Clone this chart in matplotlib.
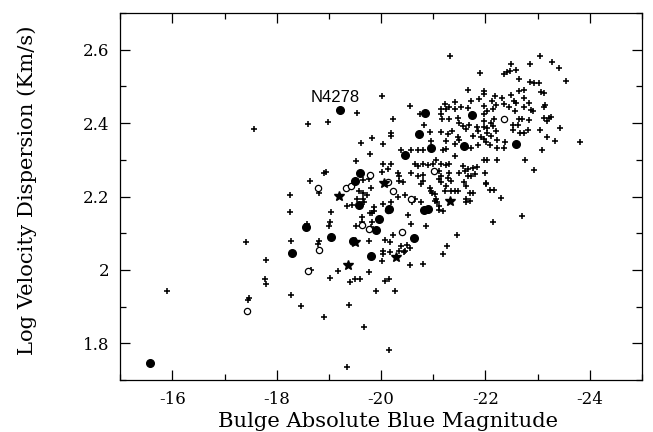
import matplotlib
matplotlib.use("Agg")
import matplotlib.pyplot as plt
import numpy as np
from matplotlib.ticker import MultipleLocator, FormatStrFormatter

plt.rcParams['axes.unicode_minus'] = False
plt.rcParams['font.family'] = 'DejaVu Serif'

# bulge absolute blue magnitude vs log velocity dispersion
filled_mag = [-15.57, -19.22, -20.85, -20.72, -20.96, -20.45, -21.75, -21.59, -22.59,
              -19.59, -19.51, -19.57, -20.16, -19.96, -20.82, -20.90, -18.57, -19.04,
              -19.47, -19.90, -20.63, -18.29, -19.81]
filled_sig = [1.748, 2.436, 2.427, 2.370, 2.333, 2.312, 2.423, 2.339, 2.343,
              2.263, 2.243, 2.178, 2.165, 2.139, 2.163, 2.167, 2.118, 2.090,
              2.080, 2.108, 2.088, 2.046, 2.037]

open_mag = [-17.44, -18.60, -18.81, -18.79, -19.32, -19.42, -19.78, -19.64, -19.77,
            -20.13, -20.23, -20.58, -20.13, -20.41, -21.02, -22.35]
open_sig = [1.887, 1.997, 2.055, 2.222, 2.222, 2.229, 2.259, 2.123, 2.112,
            2.240, 2.214, 2.193, 2.163, 2.103, 2.269, 2.410]

star_mag = [-19.20, -20.05, -21.33, -19.50, -19.37, -20.28]
star_sig = [2.202, 2.238, 2.188, 2.076, 2.013, 2.035]

cross_mag = [
    -15.90, -17.57, -17.42, -17.45, -17.46, -17.80, -17.77, -17.79, -18.25, -18.25,
    -18.27, -18.27, -18.46, -18.60, -18.63, -18.81, -18.99, -18.90, -18.94, -18.58,
    -18.79, -18.81, -18.65, -18.90, -19.02, -19.17, -19.05, -19.03, -19.00, -19.40,
    -19.50, -19.60, -19.39, -19.68, -19.35, -19.77, -19.90, -20.02, -20.04, -20.08,
    -20.15, -20.27, -20.15, -20.56, -20.81, -20.44, -21.19, -21.27, -21.46, -22.14,
    -22.71, -22.29,
    -19.54, -19.61, -19.83, -20.02,
    -19.79, -19.52, -19.66, -19.77, -19.57, -19.66, -19.73, -19.54, -19.66, -19.68,
    -19.81, -19.35, -19.45, -19.87, -19.87, -19.83, -19.78, -19.83, -19.81, -19.63,
    -19.52, -19.76, -20.09,
    -21.33, -21.90, -22.35, -22.42, -22.47, -20.55, -20.23, -20.19, -20.19, -20.04,
    -21.66, -21.97, -21.97, -21.87, -21.73, -22.18, -22.12, -22.31, -22.36, -21.22,
    -21.42, -21.15, -21.25, -21.31, -21.41, -21.54, -21.14, -21.66, -21.97, -20.74,
    -20.83, -20.93, -20.96, -21.17, -21.31, -21.47, -21.50, -21.57, -21.63, -21.15,
    -21.28, -21.36, -21.47, -21.50, -21.25, -21.41, -21.19, -21.25, -21.68, -21.84,
    -21.85, -21.76, -21.92, -21.97, -21.85, -21.97, -21.97, -21.97, -22.04, -22.14,
    -22.20, -22.11, -22.17, -22.04, -22.14, -22.04, -22.11, -22.20, -22.01, -22.08,
    -22.23, -22.22, -22.37, -22.36, -21.73, -20.39, -20.58, -20.71, -20.81,
    -23.05, -22.50, -22.58, -22.85, -23.28, -23.41, -23.54, -22.65, -22.86, -22.94,
    -23.03, -23.06, -23.12, -22.49, -22.65, -22.74, -22.55, -22.58, -22.74, -22.84,
    -22.46, -22.56, -22.74, -22.88, -22.92, -23.14, -23.13, -22.65, -22.70, -22.84,
    -23.13, -23.22, -23.25, -23.19, -22.52, -22.52, -22.63, -22.81, -22.67, -22.74,
    -23.04, -23.43, -23.19, -23.33, -23.82, -23.09, -22.75, -22.94,
    -20.04, -20.20, -20.65, -20.70, -20.81, -20.90, -21.00, -21.06, -21.15, -21.25,
    -21.31, -21.41, -21.57, -21.66, -21.76, -21.84, -21.98, -22.04, -22.23, -20.01,
    -20.13, -20.33, -20.34, -20.58, -20.71, -20.81, -21.12, -21.15, -21.12, -21.31,
    -21.28, -21.50, -21.61, -21.66, -21.73, -21.80, -21.99, -22.01, -22.01, -20.34,
    -20.42, -20.81, -20.76, -21.15, -21.35, -21.59, -21.63, -20.93, -20.96, -20.98,
    -21.25, -21.22, -21.35, -21.41, -21.47, -21.70, -21.76, -22.08, -22.17, -20.32,
    -20.46, -20.66, -20.76, -20.60, -21.04, -21.06, -21.03, -21.08, -21.12, -21.12,
    -21.19, -21.63, -21.63, -21.70, -20.20, -20.04, -20.51, -20.57, -20.87, -20.23,
    -20.08, -20.17, -20.38, -20.49, -20.56, -20.04, -20.17, -20.34, -20.46, -19.63,
]
cross_sig = [
    1.942, 2.384, 2.076, 1.918, 1.925, 2.026, 1.975, 1.962, 2.205, 2.159,
    2.080, 1.933, 1.903, 2.398, 2.242, 2.211, 2.402, 2.263, 2.266, 2.124,
    2.071, 2.078, 1.999, 1.873, 1.978, 1.997, 2.157, 2.130, 2.121, 1.966,
    1.975, 1.975, 1.904, 1.846, 1.735, 1.995, 1.942, 2.024, 2.044, 1.970,
    1.975, 1.942, 1.782, 2.013, 2.017, 2.050, 2.044, 2.066, 2.095, 2.132,
    2.146, 2.197,
    2.427, 2.347, 2.359, 2.475,
    2.317, 2.297, 2.245, 2.248, 2.215, 2.211, 2.205, 2.193, 2.193, 2.185,
    2.224, 2.173, 2.176, 2.172, 2.162, 2.154, 2.154, 2.132, 2.118, 2.132,
    2.120, 2.080, 2.235,
    2.584, 2.537, 2.533, 2.538, 2.542, 2.446, 2.412, 2.374, 2.366, 2.343,
    2.490, 2.487, 2.478, 2.466, 2.460, 2.473, 2.460, 2.469, 2.451, 2.453,
    2.458, 2.439, 2.439, 2.443, 2.439, 2.443, 2.425, 2.440, 2.447, 2.425,
    2.395, 2.377, 2.350, 2.412, 2.410, 2.415, 2.401, 2.392, 2.383, 2.375,
    2.370, 2.379, 2.362, 2.353, 2.350, 2.343, 2.326, 2.330, 2.396, 2.390,
    2.378, 2.365, 2.362, 2.357, 2.340, 2.425, 2.407, 2.389, 2.434, 2.439,
    2.448, 2.401, 2.410, 2.387, 2.392, 2.372, 2.365, 2.378, 2.349, 2.340,
    2.354, 2.331, 2.349, 2.331, 2.331, 2.328, 2.328, 2.328, 2.326,
    2.583, 2.560, 2.545, 2.560, 2.566, 2.550, 2.516, 2.521, 2.511, 2.508,
    2.508, 2.486, 2.481, 2.477, 2.488, 2.491, 2.461, 2.454, 2.469, 2.454,
    2.443, 2.432, 2.443, 2.437, 2.432, 2.450, 2.444, 2.412, 2.412, 2.408,
    2.415, 2.415, 2.418, 2.406, 2.396, 2.381, 2.396, 2.381, 2.372, 2.372,
    2.381, 2.387, 2.363, 2.351, 2.349, 2.326, 2.300, 2.272,
    2.290, 2.290, 2.290, 2.283, 2.290, 2.285, 2.290, 2.300, 2.290, 2.285,
    2.290, 2.310, 2.283, 2.276, 2.278, 2.280, 2.300, 2.300, 2.300, 2.268,
    2.274, 2.265, 2.257, 2.265, 2.257, 2.260, 2.270, 2.257, 2.248, 2.265,
    2.251, 2.265, 2.270, 2.257, 2.257, 2.261, 2.265, 2.238, 2.234, 2.243,
    2.240, 2.242, 2.235, 2.240, 2.242, 2.240, 2.228, 2.224, 2.215, 2.210,
    2.228, 2.215, 2.215, 2.215, 2.215, 2.210, 2.210, 2.219, 2.219, 2.200,
    2.204, 2.193, 2.184, 2.184, 2.207, 2.194, 2.188, 2.185, 2.173, 2.164,
    2.160, 2.193, 2.184, 2.187, 2.186, 2.181, 2.150, 2.125, 2.121, 2.095,
    2.082, 2.076, 2.064, 2.068, 2.061, 2.053, 2.050, 2.053, 2.053, 2.145,
]

fig = plt.figure(figsize=(6.53, 4.32), dpi=100)
ax = fig.add_axes([0.184, 0.12, 0.799, 0.85])

ax.plot(cross_mag, cross_sig, '+', color='black', markersize=3.8, mew=1.15)
ax.plot(open_mag, open_sig, 'o', mfc='white', mec='black', markersize=4.5, mew=0.9)
ax.plot(filled_mag, filled_sig, 'o', color='black', markersize=5.5)
ax.plot(star_mag, star_sig, '*', color='black', markersize=7.5)

ax.text(-19.13, 2.458, 'N4278', family='Liberation Sans', fontsize=12, ha='center', va='baseline')

ax.set_xlim(-15, -25)
ax.set_ylim(1.7, 2.7)
ax.xaxis.set_major_locator(MultipleLocator(2))
ax.xaxis.set_minor_locator(MultipleLocator(1))
ax.yaxis.set_major_locator(MultipleLocator(0.2))
ax.yaxis.set_minor_locator(MultipleLocator(0.1))
ax.xaxis.set_major_formatter(FormatStrFormatter('%g'))
ax.yaxis.set_major_formatter(FormatStrFormatter('%g'))
ax.tick_params(which='both', direction='in', top=True, right=True, labelsize=12, width=0.9)
ax.tick_params(which='major', length=7, pad=8)
ax.tick_params(which='minor', length=4)
for s in ax.spines.values():
    s.set_linewidth(0.9)

ax.set_xlabel('Bulge Absolute Blue Magnitude', fontsize=15.2)
ax.set_ylabel('Log Velocity Dispersion (Km/s)', fontsize=15.2)
ax.xaxis.set_label_coords(0.513, -0.088)
ax.yaxis.set_label_coords(-0.16, 0.518)

fig.savefig('out.png', dpi=100)
